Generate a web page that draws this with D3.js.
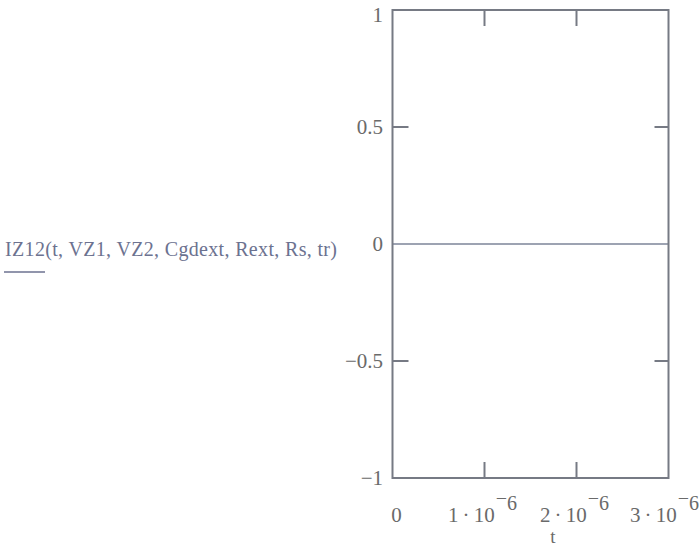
<!DOCTYPE html>
<html>
<head>
<meta charset="utf-8">
<script src="https://cdn.jsdelivr.net/npm/d3@7"></script>
<style>
  html, body { margin: 0; padding: 0; background: #fff; }
  svg { display: block; }
</style>
</head>
<body>
<svg id="chart" width="699" height="546"></svg>
<script>
// Trace of IZ12 over time t
const tValues = [0, 0.5e-6, 1e-6, 1.5e-6, 2e-6, 2.5e-6, 3e-6];
const izValues = [0, 0, 0, 0, 0, 0, 0];

// Axis limits and tick labels
const xDomain = [0, 3e-6];
const yDomain = [-1, 1];
const xTickValues = [0, 1e-6, 2e-6, 3e-6];
const xTickMantissa = ["0", "1\u2009·\u200910", "2\u2009·\u200910", "3\u2009·\u200910"];
const xTickExponent = ["", "6", "6", "6"];
const yTickValues = [1, 0.5, 0, -0.5, -1];
const yTickLabels = ["1", "0.5", "0", "−0.5", "−1"];
const innerXTicks = [1e-6, 2e-6];
const innerYTicks = [0.5, -0.5];

const traceName = "IZ12(t, VZ1, VZ2, Cgdext, Rext, Rs, tr)";
const xAxisName = "t";

const svg = d3.select("#chart");
const frameColor = "#767a84";
const textColor = "#6a6a6a";
const traceColor = "#7d8498";
const font = "'Liberation Serif', 'Times New Roman', serif";

const box = { left: 392.5, right: 668.5, top: 10, bottom: 478 };
const x = d3.scaleLinear().domain(xDomain).range([box.left, box.right]);
const y = d3.scaleLinear().domain(yDomain).range([box.bottom, box.top]);

// Data trace
const line = d3.line().x((d, i) => x(tValues[i])).y(d => y(d));
svg.append("path")
  .datum(izValues)
  .attr("d", line)
  .attr("fill", "none")
  .attr("stroke", traceColor)
  .attr("stroke-width", 1.6);

// Plot frame
svg.append("rect")
  .attr("x", box.left).attr("y", box.top)
  .attr("width", box.right - box.left).attr("height", box.bottom - box.top)
  .attr("fill", "none")
  .attr("stroke", frameColor)
  .attr("stroke-width", 2);

// Inner tick marks on all four sides
const tickLen = 16;
const g = svg.append("g").attr("stroke", frameColor).attr("stroke-width", 2);
innerXTicks.forEach(v => {
  g.append("line").attr("x1", x(v)).attr("x2", x(v)).attr("y1", box.top).attr("y2", box.top + tickLen);
  g.append("line").attr("x1", x(v)).attr("x2", x(v)).attr("y1", box.bottom).attr("y2", box.bottom - tickLen);
});
innerYTicks.forEach(v => {
  g.append("line").attr("x1", box.left).attr("x2", box.left + tickLen).attr("y1", y(v)).attr("y2", y(v));
  g.append("line").attr("x1", box.right).attr("x2", box.right - tickLen + 2).attr("y1", y(v)).attr("y2", y(v));
});

// Y tick labels
const yLabelOffset = { "1": 5, "−1": 0 };
svg.append("g").selectAll("text")
  .data(yTickValues)
  .join("text")
  .attr("x", 383)
  .attr("y", (d, i) => y(d) + 7 + (yLabelOffset[yTickLabels[i]] ?? 0))
  .attr("text-anchor", "end")
  .attr("font-family", font)
  .attr("font-size", 21)
  .attr("fill", textColor)
  .text((d, i) => yTickLabels[i]);

// X tick labels: mantissa with a raised negative exponent
const xl = svg.append("g")
  .attr("font-family", font)
  .attr("fill", textColor);
xTickValues.forEach((v, i) => {
  const t = xl.append("text")
    .attr("x", x(v) + (i === 0 ? 4 : (i === 3 ? -4 : -2)))
    .attr("y", 522)
    .attr("text-anchor", "middle")
    .attr("font-size", 21);
  t.append("tspan").text(xTickMantissa[i]);
  if (xTickExponent[i]) {
    t.append("tspan").attr("dy", -17).attr("dx", 1).attr("font-size", 20).text("−");
    t.append("tspan").attr("dy", 5).attr("font-size", 20).text(xTickExponent[i]);
  }
});

// X axis name
svg.append("text")
  .attr("x", 553).attr("y", 543)
  .attr("text-anchor", "middle")
  .attr("font-family", font)
  .attr("font-size", 19)
  .attr("fill", textColor)
  .text(xAxisName);

// Trace name with its line sample underneath
svg.append("text")
  .attr("x", 5).attr("y", 256)
  .attr("font-family", font)
  .attr("font-size", 20)
  .attr("fill", "#6c7290")
  .attr("textLength", 332)
  .attr("lengthAdjust", "spacing")
  .text(traceName);
svg.append("line")
  .attr("x1", 4).attr("x2", 45)
  .attr("y1", 272).attr("y2", 272)
  .attr("stroke", "#6c7290")
  .attr("stroke-width", 1.6);
</script>
</body>
</html>
